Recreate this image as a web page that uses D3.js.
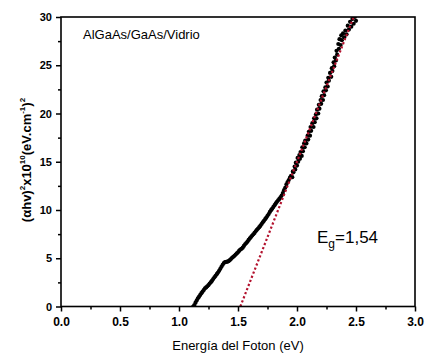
<!DOCTYPE html>
<html><head><meta charset="utf-8">
<script src="https://cdn.jsdelivr.net/npm/d3@7"></script>
<style>body{margin:0;background:#fff}svg{display:block}</style>
</head><body>
<script>
const energy = [1.12,1.13,1.14,1.15,1.16,1.17,1.18,1.19,1.20,1.21,1.22,1.23,1.24,1.25,1.26,1.27,1.28,1.29,1.30,1.31,1.32,1.33,1.34,1.35,1.36,1.37,1.38,1.39,1.40,1.41,1.42,1.43,1.44,1.45,1.46,1.47,1.48,1.49,1.50,1.51,1.52,1.53,1.54,1.55,1.56,1.57,1.58,1.59,1.60,1.61,1.62,1.63,1.64,1.65,1.66,1.67,1.68,1.69,1.70,1.71,1.72,1.73,1.74,1.75,1.76,1.77,1.78,1.79,1.80,1.81,1.82,1.83,1.84,1.85,1.86,1.87,1.88,1.89,1.90,1.91,1.92,1.93,1.94,1.95,
1.96,1.965,1.97,1.98,1.985,1.99,2.00,2.005,2.01,2.02,2.025,2.03,2.04,2.045,2.05,2.06,2.065,2.07,2.08,2.09,2.095,2.10,2.11,2.115,2.12,2.13,2.14,2.145,2.15,2.16,2.165,2.17,2.18,2.185,2.19,2.20,2.205,2.21,2.22,2.225,2.23,2.24,2.245,2.25,2.26,2.265,2.27,2.28,2.29,2.295,2.30,2.31,2.315,2.32,2.33,2.335,2.34,2.35,2.355,2.36,2.37,2.375,2.38,2.39,2.40,2.41,2.42,2.43,2.44,2.45,2.46,2.47,2.48,2.49,2.50];
const absorption = [0.00,0.15,0.40,0.62,0.85,1.02,1.20,1.38,1.55,1.70,1.88,1.98,2.10,2.22,2.38,2.52,2.68,2.85,3.02,3.18,3.35,3.52,3.70,3.90,4.12,4.32,4.50,4.60,4.62,4.64,4.70,4.80,4.92,5.05,5.15,5.25,5.38,5.50,5.62,5.78,5.90,5.98,6.10,6.28,6.45,6.58,6.72,6.90,7.05,7.20,7.35,7.48,7.62,7.80,7.95,8.08,8.22,8.38,8.55,8.72,8.88,9.05,9.22,9.40,9.58,9.80,9.98,10.15,10.32,10.50,10.68,10.85,11.00,11.15,11.30,11.50,11.75,12.05,12.30,12.65,12.90,13.10,13.35,13.55,
13.4,14.0,13.9,14.5,14.2,14.9,14.6,15.4,15.0,15.7,15.3,16.0,15.6,16.5,16.1,16.9,16.5,17.2,16.9,17.7,17.3,18.1,17.7,18.6,18.2,19.0,18.6,19.5,19.1,19.9,19.5,20.4,20.0,20.9,20.5,21.4,21.0,21.8,21.4,22.3,21.9,22.7,22.4,23.2,22.8,23.7,23.4,24.2,23.8,24.7,24.4,25.3,24.9,25.8,25.5,26.5,26.1,27.2,26.7,27.7,27.1,28.1,27.6,28.3,27.9,28.6,28.2,29.1,28.7,29.5,29.0,29.8,29.3,30.0,29.6];
const fitEnergy = [1.52, 2.48];
const fitValue = [0, 30];
const xTicks = [0.0,0.5,1.0,1.5,2.0,2.5,3.0];
const xMinor = [0.25,0.75,1.25,1.75,2.25,2.75];
const yTicks = [0,5,10,15,20,25,30];
const yMinor = [2.5,7.5,12.5,17.5,22.5,27.5];

const W=430,H=356, m={l:61,t:17,r:15,b:49.5};
const svg=d3.select("body").append("svg").attr("width",W).attr("height",H);
const x=d3.scaleLinear().domain([0,3]).range([m.l,W-m.r]);
const y=d3.scaleLinear().domain([0,30]).range([H-m.b,m.t]);
const font="Arial, 'Liberation Sans', sans-serif";

svg.append("clipPath").attr("id","c").append("rect")
  .attr("x",m.l).attr("y",m.t).attr("width",W-m.l-m.r).attr("height",H-m.t-m.b);

const gPlot=svg.append("g").attr("clip-path","url(#c)");
gPlot.selectAll("circle").data(energy.map((e,i)=>[e,absorption[i]])).enter()
  .append("circle").attr("cx",d=>x(d[0])).attr("cy",d=>y(d[1])).attr("r",2.1).attr("fill","#000");
gPlot.append("path").datum(fitEnergy.map((e,i)=>[e,fitValue[i]]))
  .attr("d",d3.line().x(d=>x(d[0])).y(d=>y(d[1])))
  .attr("fill","none").attr("stroke","#b3122e").attr("stroke-width",2.2).attr("stroke-dasharray","2.2,2.2");

const xa=svg.append("g").attr("transform",`translate(0,${H-m.b})`)
  .call(d3.axisBottom(x).tickValues(xTicks).tickFormat(d3.format(".1f")).tickSize(5).tickPadding(6));
const xm=svg.append("g").attr("transform",`translate(0,${H-m.b})`)
  .call(d3.axisBottom(x).tickValues(xMinor).tickFormat("").tickSize(3));
const ya=svg.append("g").attr("transform",`translate(${m.l},0)`)
  .call(d3.axisLeft(y).tickValues(yTicks).tickFormat(d3.format("d")).tickSize(5).tickPadding(4));
const ym=svg.append("g").attr("transform",`translate(${m.l},0)`)
  .call(d3.axisLeft(y).tickValues(yMinor).tickFormat("").tickSize(3));
[xa,xm,ya,ym].forEach(g=>{g.select(".domain").remove();g.selectAll("line").attr("stroke","#000").attr("stroke-width",1.5);});
xa.selectAll("text").attr("font-family",font).attr("font-size",12).attr("font-weight","bold").attr("fill","#000");
ya.selectAll("text").attr("font-family",font).attr("font-size",11).attr("font-weight","bold").attr("fill","#000");

svg.append("rect").attr("x",m.l).attr("y",m.t).attr("width",W-m.l-m.r).attr("height",H-m.t-m.b)
  .attr("fill","none").attr("stroke","#000").attr("stroke-width",1.6);

svg.append("text").attr("x",83).attr("y",39).attr("font-family",font).attr("font-size",13).text("AlGaAs/GaAs/Vidrio");
svg.append("text").attr("x",(m.l+W-m.r)/2).attr("y",350).attr("text-anchor","middle")
  .attr("font-family",font).attr("font-size",13).text("Energía del Foton (eV)");

const eg=svg.append("text").attr("x",317).attr("y",243).attr("font-family",font).attr("font-size",17);
eg.append("tspan").text("E");
eg.append("tspan").attr("font-size",12).attr("dy",5).text("g");
eg.append("tspan").attr("dy",-5).text("=1,54");

const yl=svg.append("text").attr("transform",`translate(31,${160}) rotate(-90)`).attr("text-anchor","middle")
  .attr("font-family",font).attr("font-size",13).attr("font-weight","bold");
yl.append("tspan").text("(αhv)");
yl.append("tspan").attr("font-size",8).attr("dy",-6).text("2");
yl.append("tspan").attr("dy",6).text("x10");
yl.append("tspan").attr("font-size",8).attr("dy",-6).text("10");
yl.append("tspan").attr("dy",6).text("(eV.cm");
yl.append("tspan").attr("font-size",8).attr("dy",-6).text("-1");
yl.append("tspan").attr("dy",6).text(")");
yl.append("tspan").attr("font-size",8).attr("dy",-6).text("2");
</script>
</body></html>
